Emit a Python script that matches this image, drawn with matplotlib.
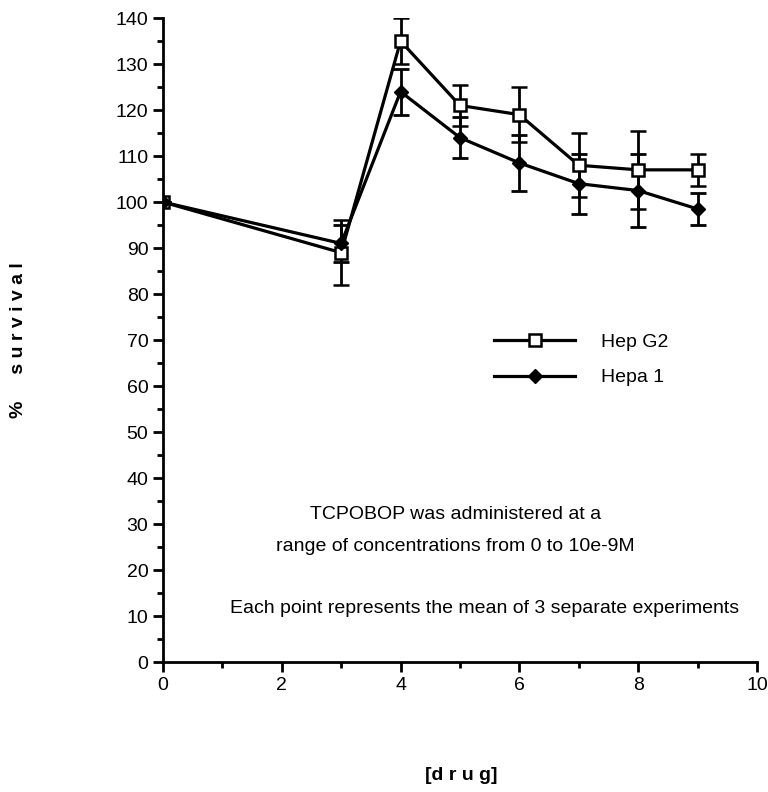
import numpy as np
import matplotlib.pyplot as plt
from matplotlib.lines import Line2D

# data
conc = [0, 3, 4, 5, 6, 7, 8, 9]
hepg2 = [100, 89, 135, 121, 119, 108, 107, 107]
hepg2_err = [0, 7, 5, 4.5, 6, 7, 8.5, 3.5]
hepa1 = [100, 91, 124, 114, 108.5, 104, 102.5, 98.5]
hepa1_err = [0, 4, 5, 4.5, 6, 6.5, 8, 3.5]

plt.rcParams['font.family'] = ['Liberation Sans', 'DejaVu Sans']

fig = plt.figure(figsize=(7.68, 7.92), dpi=100)
ax = fig.add_axes([0.2122, 0.1641, 0.7734, 0.8131])

ax.errorbar(conc, hepg2, yerr=hepg2_err, color="black", lw=2.3, marker="s", ms=8,
            mfc="white", mec="black", mew=1.8, capsize=6, capthick=2, elinewidth=2)
ax.errorbar(conc, hepa1, yerr=hepa1_err, color="black", lw=2.3, marker="D", ms=7,
            mfc="black", mec="black", capsize=6, capthick=2, elinewidth=2)

ax.set_xlim(0, 10)
ax.set_ylim(0, 140)
ax.set_xticks(np.arange(0, 11, 2))
ax.set_xticks(np.arange(0, 11, 1), minor=True)
ax.set_yticks(np.arange(0, 141, 10))
ax.set_yticks(np.arange(0, 141, 5), minor=True)
ax.tick_params(which="major", direction="out", length=7, width=2, labelsize=14)
ax.tick_params(which="minor", direction="out", length=4, width=2)
ax.spines["top"].set_visible(False)
ax.spines["right"].set_visible(False)
ax.spines["left"].set_linewidth(2)
ax.spines["bottom"].set_linewidth(2)

fig.text(0.024, 0.571, "%     s u r v i v a l", rotation=90, ha="center", va="center",
         fontsize=14, fontweight="bold")
fig.text(0.6, 0.021, "[d r u g]", ha="center", va="center", fontsize=14, fontweight="bold")

ax.text(4.92, 32, "TCPOBOP was administered at a", ha="center", va="center", fontsize=14)
ax.text(4.92, 25.2, "range of concentrations from 0 to 10e-9M", ha="center", va="center", fontsize=14)
ax.text(5.42, 11.7, "Each point represents the mean of 3 separate experiments", ha="center",
        va="center", fontsize=14)

handles = [
    Line2D([], [], color="black", lw=2.3, marker="s", ms=8, mfc="white", mec="black", mew=1.8),
    Line2D([], [], color="black", lw=2.3, marker="D", ms=7, mfc="black", mec="black"),
]
ax.legend(handles, ["Hep G2", "Hepa 1"], loc="center left", bbox_to_anchor=(0.557, 0.469),
          frameon=False, fontsize=14, borderpad=0, borderaxespad=0,
          handlelength=4.2, handletextpad=1.3, labelspacing=0.9)

fig.savefig("out.png", dpi=100)
